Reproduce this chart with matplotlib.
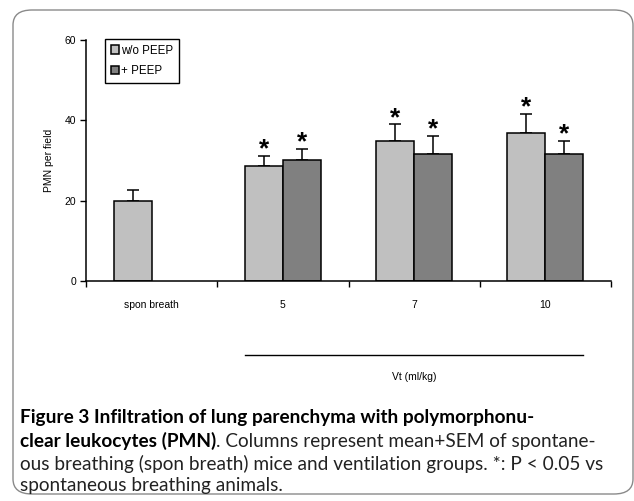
import numpy as np
import matplotlib
matplotlib.use('Agg')
import matplotlib.pyplot as plt
from matplotlib.patches import FancyBboxPatch
import matplotlib.transforms as mtransforms

# data
categories = ['spon breath', '5', '7', '10']
wo_peep = [20.0, 28.6, 34.8, 36.8]
wo_peep_sem = [2.6, 2.5, 4.2, 4.8]
with_peep = [np.nan, 30.1, 31.6, 31.6]
with_peep_sem = [np.nan, 2.8, 4.5, 3.2]
sig_wo = [False, True, True, True]
sig_with = [False, True, True, True]

W, H = 634, 501
fig = plt.figure(figsize=(W / 100, H / 100), dpi=100)
plt.rcParams['font.family'] = ['Liberation Sans', 'DejaVu Sans']

def fx(px):
    return px / W

def fy(py):
    return 1 - py / H

# rounded frame around figure + caption
frame = FancyBboxPatch((fx(13), fy(494)), fx(633) - fx(13), fy(10) - fy(494),
                       boxstyle='round,pad=0,rounding_size=0.03',
                       transform=fig.transFigure, facecolor='none',
                       edgecolor='#8a8a8a', lw=1.0)
fig.patches.append(frame)

ax = fig.add_axes([fx(86), fy(281), fx(611) - fx(86), fy(40) - fy(281)])

x = np.arange(len(categories))
bw = 0.29
light = '#c0c0c0'
dark = '#808080'

ax.bar(x, wo_peep, width=-bw, align='edge', color=light, edgecolor='black', lw=1.1,
       label='w/o PEEP', zorder=2)
ax.bar(x, with_peep, width=bw, align='edge', color=dark, edgecolor='black', lw=1.1,
       label='+ PEEP', zorder=2)

xl = x - bw / 2
xd = x + bw / 2
ax.errorbar(xl, wo_peep, yerr=[np.zeros(len(x)), wo_peep_sem], fmt='none',
            ecolor='black', elinewidth=1.1, capsize=4, capthick=1.1, zorder=1)
ax.errorbar(xd, with_peep, yerr=[np.zeros(len(x)), with_peep_sem], fmt='none',
            ecolor='black', elinewidth=1.1, capsize=4, capthick=1.1, zorder=1)

for i in range(len(x)):
    if sig_wo[i]:
        ax.annotate('*', (xl[i], wo_peep[i] + wo_peep_sem[i]), xytext=(0, -4),
                    textcoords='offset points', ha='center', va='bottom',
                    fontsize=19, fontweight='bold')
    if sig_with[i]:
        ax.annotate('*', (xd[i], with_peep[i] + with_peep_sem[i]), xytext=(0, -4),
                    textcoords='offset points', ha='center', va='bottom',
                    fontsize=19, fontweight='bold')

ax.set_xlim(-0.5, len(x) - 0.5)
ax.set_ylim(0, 60)
ax.set_yticks([0, 20, 40, 60])
ax.tick_params(axis='y', labelsize=7.5, length=4, width=1, pad=3)
ax.set_xticks(np.arange(len(x) + 1) - 0.5)
ax.set_xticklabels([])
ax.tick_params(axis='x', which='major', length=4, width=1)
ax.set_xticks(x, minor=True)
ax.set_xticklabels(categories, minor=True)
ax.tick_params(axis='x', which='minor', length=0, labelsize=7.5, pad=14)
for s in ['top', 'right']:
    ax.spines[s].set_visible(False)
for s in ['left', 'bottom']:
    ax.spines[s].set_linewidth(1.1)
ax.set_ylabel('PMN per field', fontsize=7.5, labelpad=8)

leg = ax.legend(loc='upper left', bbox_to_anchor=(0.036, 1.005), fontsize=8.3,
                frameon=True, fancybox=False, edgecolor='black', framealpha=1,
                handlelength=0.7, handleheight=0.7, handletextpad=0.2,
                labelspacing=0.75, borderpad=0.5, borderaxespad=0)
leg.get_frame().set_linewidth(1.0)

# Vt bracket line
trans = mtransforms.blended_transform_factory(ax.transData, ax.transAxes)
ax.plot([xl[1] - bw / 2, xd[3] + bw / 2], [-0.307, -0.307], color='black', lw=1.0,
        transform=trans, clip_on=False)
ax.text(2, -0.398, 'Vt (ml/kg)', transform=trans, ha='center', va='center', fontsize=7.5)

# caption
cap_font = ['Lato', 'DejaVu Sans']
cs = 13.7
fig.text(fx(20), fy(418), 'Figure 3 Infiltration of lung parenchyma with polymorphonu-',
         fontsize=cs, fontweight='bold', family=cap_font, va='center', ha='left')
b2 = fig.text(fx(20), fy(441), 'clear leukocytes (PMN)', fontsize=cs, fontweight='bold',
              family=cap_font, va='center', ha='left')
ax.annotate('. Columns represent mean+SEM of spontane-', xy=(1, 0.5), xycoords=b2,
            va='center', ha='left', fontsize=cs, family=cap_font, color='#222222',
            annotation_clip=False)
fig.text(fx(20), fy(464), 'ous breathing (spon breath) mice and ventilation groups. *: P < 0.05 vs',
         fontsize=cs, family=cap_font, va='center', ha='left', color='#222222')
fig.text(fx(20), fy(486), 'spontaneous breathing animals.',
         fontsize=cs, family=cap_font, va='center', ha='left', color='#222222')

fig.savefig('out.png', dpi=100)
